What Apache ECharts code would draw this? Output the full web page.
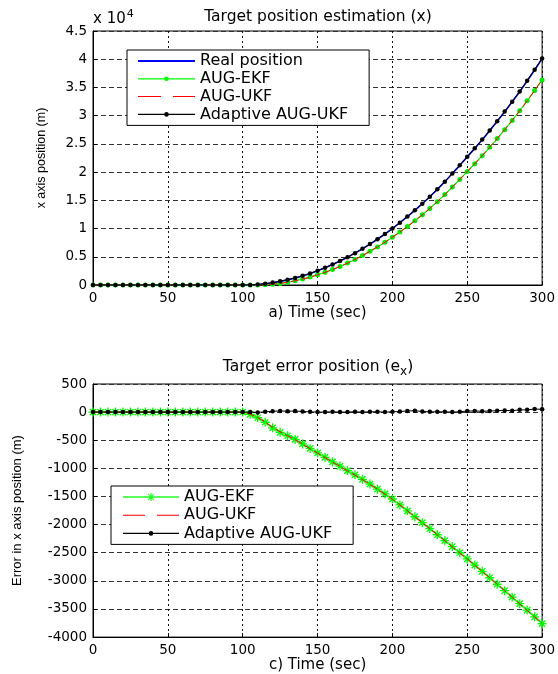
<!DOCTYPE html>
<html><head><meta charset="utf-8">
<script src="https://cdn.jsdelivr.net/npm/echarts@6/dist/echarts.min.js"></script>
<style>html,body{margin:0;padding:0;background:#fff}#c{width:558px;height:674px}</style>
</head><body><div id="c"></div>
<script>
// ---------- data ----------
const time = [0,5,10,15,20,25,30,35,40,45,50,55,60,65,70,75,80,85,90,95,100,
  105,110,115,120,125,130,135,140,145,150,155,160,165,170,175,180,185,190,195,200,
  205,210,215,220,225,230,235,240,245,250,255,260,265,270,275,280,285,290,295,300];

const realPos = [0,0,0,0,0,0,0,0,0,0,0,0,0,0,0,0,0,0,0,0,0,
  20,100,230,410,640,910,1240,1610,2040,2520,3050,3620,4250,4920,5640,6420,7240,8110,9030,10000,
  11030,12100,13230,14400,15630,16950,18300,19750,21200,22700,24200,25750,27350,29000,30700,32450,34250,36150,38100,40100];

const ekfPos = [0,0,0,0,0,0,0,0,0,0,0,0,0,0,0,0,0,0,0,0,0,
  0,0,50,130,280,490,750,1050,1400,1800,2250,2740,3290,3880,4530,5230,5960,6740,7580,8460,
  9380,10350,11370,12440,13560,14770,16020,17360,18700,20090,21480,22920,24400,25940,27520,29160,30850,32630,34460,36340];

const ukfPos = [0,0,0,0,0,0,0,0,0,0,0,0,0,0,0,0,0,0,0,0,0,
  0,5,55,140,290,490,750,1040,1390,1790,2240,2730,3285,3875,4520,5220,5955,6740,7570,8450,
  9380,10345,11370,12435,13555,14770,16015,17355,18695,20090,21480,22915,24405,25940,27525,29160,30840,32625,34460,36345];

const adaptPos = [0,0,0,0,0,0,0,0,0,0,0,0,0,0,0,0,0,0,0,0,0,
  20,95,235,425,660,925,1260,1620,2045,2520,3050,3625,4250,4920,5645,6420,7245,8115,9030,10005,
  11040,12120,13255,14410,15635,16955,18305,19750,21205,22720,24220,25765,27370,29025,30730,32475,34290,36190,38155,40150];

const ekfErr = [0,0,0,0,0,0,0,0,0,0,0,0,0,0,0,0,0,0,0,0,0,
  -40,-100,-180,-280,-360,-420,-485,-565,-645,-725,-805,-885,-960,-1040,-1115,-1195,-1280,-1370,-1455,-1545,
  -1650,-1755,-1860,-1965,-2070,-2180,-2285,-2390,-2500,-2610,-2720,-2830,-2945,-3060,-3175,-3290,-3405,-3520,-3640,-3760];

const ukfErr = [0,0,0,0,0,0,0,0,0,0,0,0,0,0,0,0,0,0,0,0,0,
  -35,-95,-175,-270,-350,-420,-490,-570,-650,-730,-810,-890,-965,-1045,-1120,-1200,-1285,-1370,-1460,-1550,
  -1650,-1755,-1860,-1965,-2075,-2180,-2285,-2395,-2505,-2610,-2720,-2835,-2945,-3060,-3175,-3290,-3410,-3525,-3640,-3755];

const adaptErr = [0,0,0,0,0,0,0,0,0,0,0,0,0,0,0,0,0,0,0,0,0,
  0,-5,5,15,20,15,20,10,5,0,0,5,0,0,5,0,5,5,0,5,
  10,20,25,10,5,5,5,0,5,20,20,15,20,25,30,25,40,40,55,50];

const posTickLabels = ['0','0.5','1','1.5','2','2.5','3','3.5','4','4.5'];
const seriesNames = ['Real position','AUG-EKF','AUG-UKF','Adaptive AUG-UKF'];
// ----------------------------------------------------

const FONT = 'DejaVu Sans';
const pairs = ys => time.map((t, i) => [t, ys[i]]);

const asterisk = 'path://M5,0L5,10M0,5L10,5M1.5,1.5L8.5,8.5M1.5,8.5L8.5,1.5';

function xAxisDef(idx, name, nameGap) {
  return {
    type: 'value', gridIndex: idx, min: 0, max: 300, interval: 50,
    name: name, nameLocation: 'middle', nameGap: nameGap,
    nameTextStyle: {fontFamily: FONT, fontSize: 15, color: '#000'},
    axisLine: {show: true, onZero: false, lineStyle: {color: '#000', width: 1}},
    axisTick: {show: true, inside: true, length: 4, lineStyle: {color: '#000'}},
    axisLabel: {margin: 6, fontFamily: FONT, fontSize: 13.5, color: '#000'},
    splitLine: {show: true, lineStyle: {color: '#111', type: [2, 3], width: 1}}
  };
}
function yAxisDef(idx, name, nameGap, nameSize, min, max, interval, fmt) {
  return {
    type: 'value', gridIndex: idx, min: min, max: max, interval: interval,
    name: name, nameLocation: 'middle', nameGap: nameGap,
    nameTextStyle: {fontFamily: 'Liberation Sans', fontSize: nameSize, color: '#000'},
    axisLine: {show: true, onZero: false, lineStyle: {color: '#000', width: 1}},
    axisTick: {show: true, inside: true, length: 4, lineStyle: {color: '#000'}},
    axisLabel: {margin: 6, fontFamily: FONT, fontSize: 13.5, color: '#000', formatter: fmt},
    splitLine: {show: true, lineStyle: {color: '#333', type: [5, 3], width: 1}}
  };
}

// legend icons: filled shapes inside a fixed box (the leading M commands fix the box)
const BOX = 'M0,0M57,14';
const dot = cx => `M${cx + 2.3},7A2.3,2.3,0,1,1,${cx - 2.3},7A2.3,2.3,0,1,1,${cx + 2.3},7Z`;
const iconLine = (w, t) => `M0,${7 - t / 2}L${w},${7 - t / 2}L${w},${7 + t / 2}L0,${7 + t / 2}Z`;
const legendTop = {
  orient: 'vertical', left: 127, top: 50, itemWidth: 57, itemHeight: 14, itemGap: 1.8,
  padding: [3, 21, 3, 11], borderColor: '#000', borderWidth: 1, backgroundColor: '#fff',
  selectedMode: false, z: 20,
  textStyle: {fontFamily: FONT, fontSize: 16, color: '#000'},
  data: [
    {name: seriesNames[0], icon: 'path://' + BOX + iconLine(57, 2), itemStyle: {color: '#0000ff', borderWidth: 0}},
    {name: seriesNames[1], icon: 'path://' + BOX + iconLine(57, 1.2) + dot(28.5), itemStyle: {color: '#00ff00', borderWidth: 0}},
    {name: seriesNames[2], icon: 'path://' + BOX + 'M0,6.5L23,6.5L23,7.5L0,7.5ZM35,6.5L57,6.5L57,7.5L35,7.5Z', itemStyle: {color: '#ff0000', borderWidth: 0}},
    {name: seriesNames[3], icon: 'path://' + BOX + iconLine(57, 1.2) + dot(28.5), itemStyle: {color: '#000000', borderWidth: 0}}
  ]
};
const BOX2 = 'M0,0M56,14';
const star = 'M27.4,3L28.6,3L28.6,11L27.4,11Z M24,6.4L32,6.4L32,7.6L24,7.6Z ' +
  'M25.6,3.8L31.2,9.4L30.4,10.2L24.8,4.6Z M24.8,9.4L30.4,3.8L31.2,4.6L25.6,10.2Z';
const legendBot = {
  orient: 'vertical', left: 111, top: 486, itemWidth: 56, itemHeight: 14, itemGap: 2.2,
  padding: [3, 21, 3, 12], borderColor: '#000', borderWidth: 1, backgroundColor: '#fff',
  selectedMode: false, z: 20,
  textStyle: {fontFamily: FONT, fontSize: 16, color: '#000'},
  data: [
    {name: seriesNames[1], icon: 'path://' + BOX2 + iconLine(56, 1.6) + star, itemStyle: {color: '#22ff22', borderWidth: 0}},
    {name: seriesNames[2], icon: 'path://' + BOX2 + 'M0,6.5L22,6.5L22,7.5L0,7.5ZM34,6.5L56,6.5L56,7.5L34,7.5Z', itemStyle: {color: '#ff0000', borderWidth: 0}},
    {name: seriesNames[3], icon: 'path://' + BOX2 + iconLine(56, 1.2) + dot(28), itemStyle: {color: '#000000', borderWidth: 0}}
  ]
};

const option = {
  animation: false,
  backgroundColor: '#fff',
  textStyle: {fontFamily: FONT},
  grid: [
    {left: 93, top: 31, width: 450, height: 254, show: true, borderColor: '#000', borderWidth: 1, backgroundColor: '#fff'},
    {left: 93, top: 384, width: 450, height: 254, show: true, borderColor: '#000', borderWidth: 1, backgroundColor: '#fff'}
  ],
  xAxis: [xAxisDef(0, 'a) Time (sec)', 18), xAxisDef(1, 'c) Time (sec)', 20)],
  yAxis: [
    yAxisDef(0, 'x axis position (m)', 45, 12.5, 0, 45000, 5000, v => posTickLabels[Math.round(v / 5000)]),
    yAxisDef(1, 'Error in x axis position (m)', 69, 13, -4000, 500, 500, v => String(v))
  ],
  legend: [legendTop, legendBot],
  series: [
    {name: seriesNames[0], type: 'line', xAxisIndex: 0, yAxisIndex: 0, data: pairs(realPos),
      symbol: 'none', lineStyle: {color: '#0000ff', width: 1.6}, itemStyle: {color: '#0000ff'}, z: 2},
    {name: seriesNames[1], type: 'line', xAxisIndex: 0, yAxisIndex: 0, data: pairs(ekfPos),
      symbol: 'circle', symbolSize: 5, showAllSymbol: true,
      lineStyle: {color: '#00ff00', width: 1.2}, itemStyle: {color: '#00ee00'}, z: 3},
    {name: seriesNames[2], type: 'line', xAxisIndex: 0, yAxisIndex: 0, data: pairs(ukfPos),
      symbol: 'none', lineStyle: {color: '#ff0000', width: 1, type: [8, 3]}, itemStyle: {color: '#ff0000'}, z: 4},
    {name: seriesNames[3], type: 'line', xAxisIndex: 0, yAxisIndex: 0, data: pairs(adaptPos),
      symbol: 'circle', symbolSize: 4.5, showAllSymbol: true,
      lineStyle: {color: '#000', width: 1}, itemStyle: {color: '#000'}, z: 5},

    {name: seriesNames[1], type: 'line', xAxisIndex: 1, yAxisIndex: 1, data: pairs(ekfErr),
      symbol: asterisk, symbolSize: 9, showAllSymbol: true,
      lineStyle: {color: '#44ff44', width: 2}, itemStyle: {color: '#00ff00', borderColor: '#00ff00', borderWidth: 1.3}, z: 3},
    {name: seriesNames[2], type: 'line', xAxisIndex: 1, yAxisIndex: 1, data: pairs(ukfErr),
      symbol: 'none', lineStyle: {color: '#ff0000', width: 1, type: [8, 3]}, itemStyle: {color: '#ff0000'}, z: 4},
    {name: seriesNames[3], type: 'line', xAxisIndex: 1, yAxisIndex: 1, data: pairs(adaptErr),
      symbol: 'circle', symbolSize: 4.5, showAllSymbol: true,
      lineStyle: {color: '#000', width: 1}, itemStyle: {color: '#000'}, z: 5}
  ],
  graphic: [
    {type: 'text', z: 30, x: 318, y: 17, style: {text: 'Target position estimation (x)',
      align: 'center', verticalAlign: 'middle', fontFamily: FONT, fontSize: 15.5, fill: '#000'}},
    {type: 'text', z: 30, x: 318, y: 367, style: {text: 'Target error position (e{s|x})',
      align: 'center', verticalAlign: 'middle', fontFamily: FONT, fontSize: 15.5, fill: '#000',
      rich: {s: {fontFamily: FONT, fontSize: 12, padding: [9, 0, 0, 0]}}}},
    {type: 'text', z: 30, x: 93, y: 19, style: {text: 'x 10{p|4}',
      align: 'left', verticalAlign: 'middle', fontFamily: FONT, fontSize: 15, fill: '#000',
      rich: {p: {fontFamily: FONT, fontSize: 11, padding: [0, 0, 9, 1]}}}}
  ]
};
const chart = echarts.init(document.getElementById('c'));
chart.setOption(option);
</script></body></html>
